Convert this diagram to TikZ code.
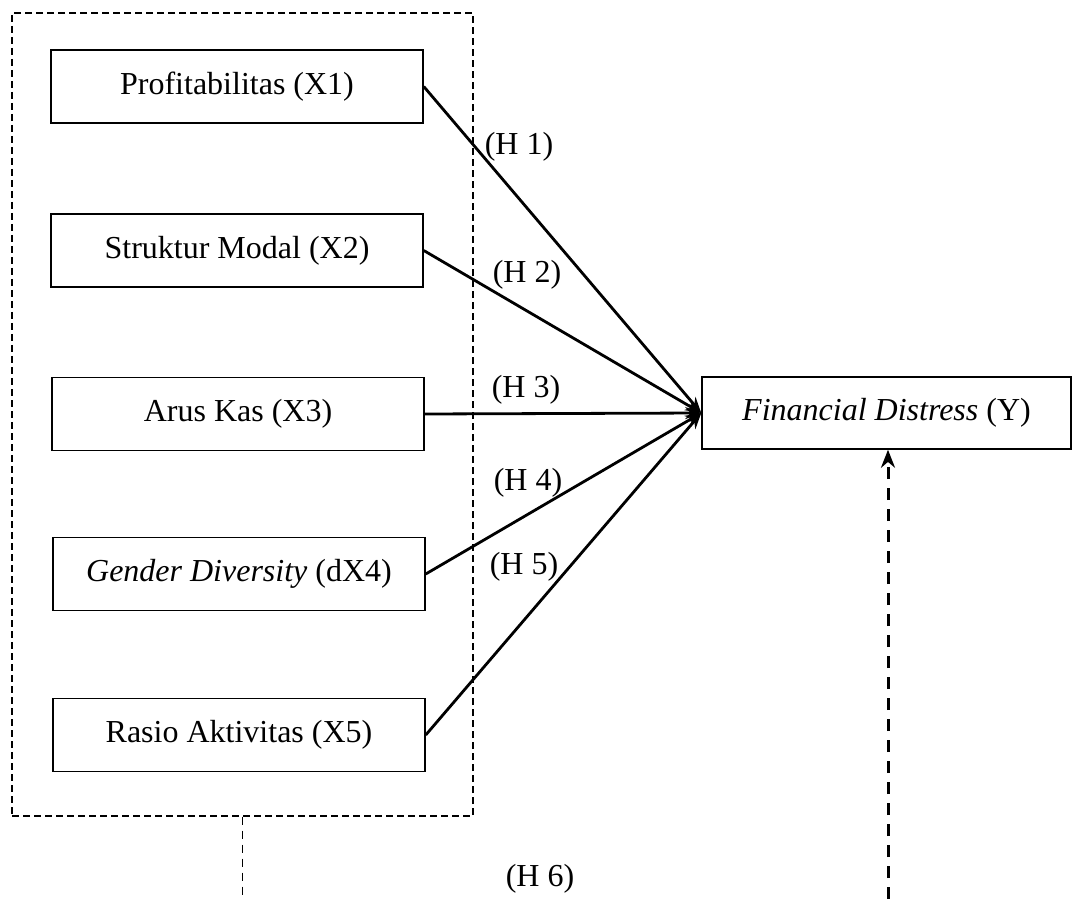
\documentclass[tikz,border=0pt]{standalone}
\usepackage{fontspec}
\setmainfont{Liberation Serif}
\usetikzlibrary{arrows.meta}
\begin{document}
\begin{tikzpicture}[x=0.5pt,y=-0.5pt,
  every node/.style={font=\fontsize{16pt}{18pt}\selectfont},
  varbox/.style={draw,line width=0.75pt,minimum width=186pt,minimum height=36.5pt,inner sep=0pt},
  grpbox/.style={draw,line width=0.6pt,dash pattern=on 3.5pt off 2pt,minimum width=230.5pt,minimum height=401.5pt,inner sep=0pt},
  link/.style={line width=1.4pt,-{Stealth[length=8pt,width=6pt]}},
  hlabel/.style={inner sep=0pt}
]
\useasboundingbox (0,0) rectangle (1072,899);
\node[grpbox] (grp) at (242.5,414.5) {};
\node[varbox] (x1) at (237,86.5) {Profitabilitas (X1)};
\node[varbox] (x2) at (237,250.5) {Struktur Modal (X2)};
\node[varbox] (x3) at (238,414) {Arus Kas (X3)};
\node[varbox] (x4) at (239,574) {\textit{Gender Diversity} (dX4)};
\node[varbox] (x5) at (239,735) {Rasio Aktivitas (X5)};
\node[varbox,minimum width=184.5pt,minimum height=36pt] (y) at (886.5,413) {\textit{Financial Distress} (Y)};
\draw[link] (x1.east) -- (y.west);
\draw[link] (x2.east) -- (y.west);
\draw[link] (x3.east) -- (y.west);
\draw[link] (x4.east) -- (y.west);
\draw[link] (x5.east) -- (y.west);
\node[hlabel] (h1) at (519,147) {(H 1)};
\node[hlabel] (h2) at (527,275) {(H 2)};
\node[hlabel] (h3) at (526,390) {(H 3)};
\node[hlabel] (h4) at (528,483) {(H 4)};
\node[hlabel] (h5) at (524,567) {(H 5)};
\node[hlabel] (h6) at (540,879) {(H 6)};
\coordinate (gend) at (242.5,899);
\draw[line width=0.6pt,dash pattern=on 4pt off 3pt] (grp.south) -- (gend);
\coordinate (yst) at (888,899);
\draw[line width=1.5pt,dash pattern=on 6pt off 4.5pt,-{Stealth[length=9pt,width=7pt]}] (yst) -- (yst |- y.south);
\end{tikzpicture}
\end{document}
